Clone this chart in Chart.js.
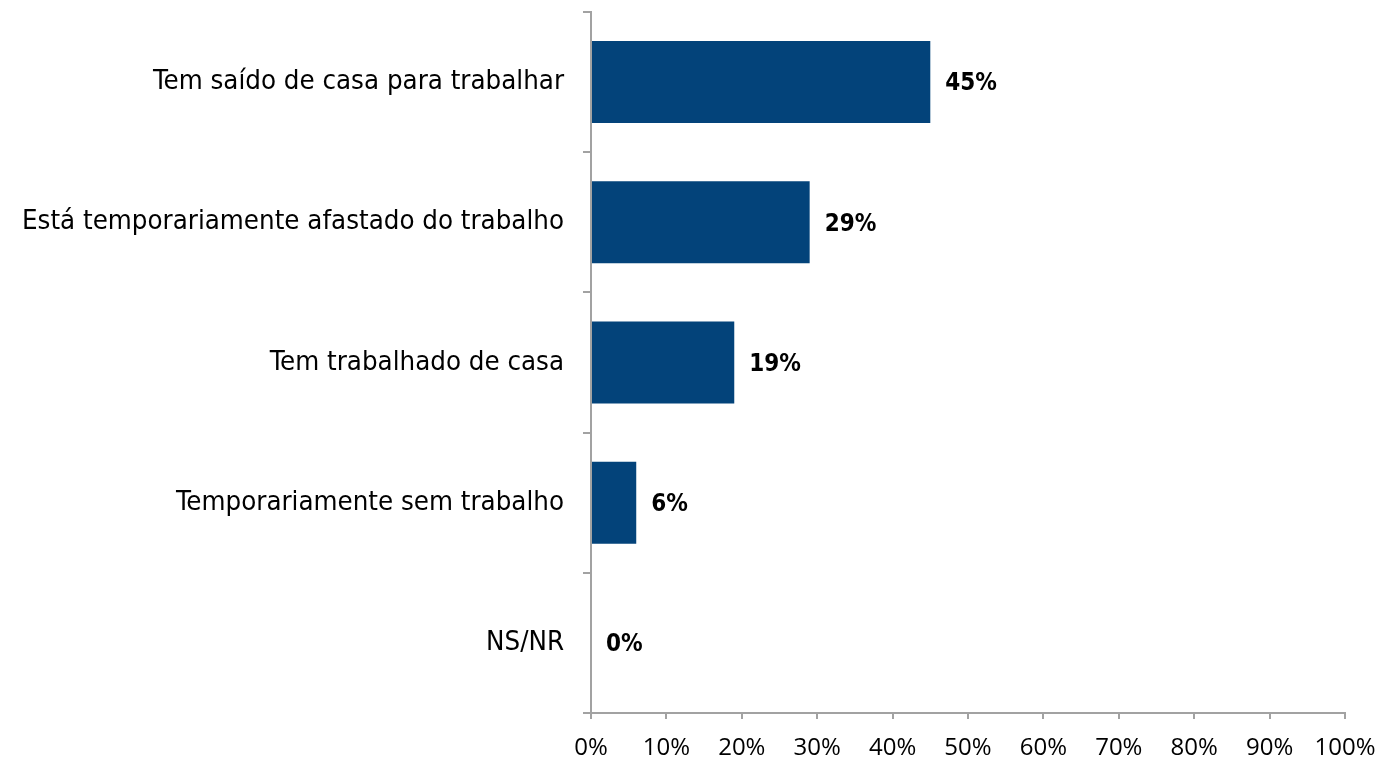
<!DOCTYPE html>
<html>
<head>
<meta charset="utf-8">
<script src="https://cdn.jsdelivr.net/npm/chart.js@4/dist/chart.umd.min.js"></script>
<style>
  html, body { margin: 0; padding: 0; background: #fff; }
  #wrap { width: 1380px; height: 763px; }
</style>
</head>
<body>
<div id="wrap"><canvas id="workChart" width="1380" height="763"></canvas></div>
<script>
const categories = [
  'Tem saído de casa para trabalhar',
  'Está temporariamente afastado do trabalho',
  'Tem trabalhado de casa',
  'Temporariamente sem trabalho',
  'NS/NR'
];
const percentages = [45, 29, 19, 6, 0];
const xTicks = [0, 10, 20, 30, 40, 50, 60, 70, 80, 90, 100];

const axisGray = '#a2a2a2';
const barBlue = '#03437a';

// labels at the end of each bar
const valueLabels = {
  id: 'valueLabels',
  afterDatasetsDraw(chart) {
    const ctx = chart.ctx;
    ctx.save();
    ctx.font = 'bold 24px "DejaVu Sans Condensed", "DejaVu Sans"';
    ctx.fillStyle = '#000';
    ctx.textAlign = 'left';
    ctx.textBaseline = 'middle';
    chart.getDatasetMeta(0).data.forEach((bar, i) => {
      ctx.fillText(percentages[i] + '%', bar.x + 15, bar.y + 2);
    });
    ctx.restore();
  }
};

new Chart(document.getElementById('workChart'), {
  type: 'bar',
  data: {
    labels: categories,
    datasets: [{
      data: percentages,
      backgroundColor: barBlue,
      barPercentage: 0.585,
      categoryPercentage: 1
    }]
  },
  options: {
    indexAxis: 'y',
    responsive: false,
    animation: false,
    layout: { padding: { top: 12, right: 35, left: 0, bottom: 0 } },
    plugins: {
      legend: { display: false },
      tooltip: { enabled: false }
    },
    scales: {
      y: {
        grid: { drawOnChartArea: false, tickLength: 8, color: axisGray, lineWidth: 2 },
        border: { color: axisGray, width: 2 },
        ticks: {
          color: '#000',
          padding: 19,
          font: { family: '"DejaVu Sans Condensed", "DejaVu Sans"', size: 27.4 }
        },
        afterFit(scale) {
          scale.width = 591;
          scale.paddingTop = 0;
          scale.paddingBottom = 0;
        }
      },
      x: {
        min: 0,
        max: 100,
        afterBuildTicks(scale) { scale.ticks = xTicks.map(v => ({ value: v })); },
        grid: { drawOnChartArea: false, tickLength: 6, color: axisGray, lineWidth: 2 },
        border: { color: axisGray, width: 2 },
        ticks: {
          color: '#000',
          padding: 15,
          maxRotation: 0,
          font: { family: '"Open Sans"', size: 24 },
          callback: v => v + '%'
        },
        afterFit(scale) {
          scale.height = 50;
          scale.paddingRight = 0;
          scale.paddingLeft = 0;
        }
      }
    }
  },
  plugins: [valueLabels]
});
</script>
</body>
</html>
